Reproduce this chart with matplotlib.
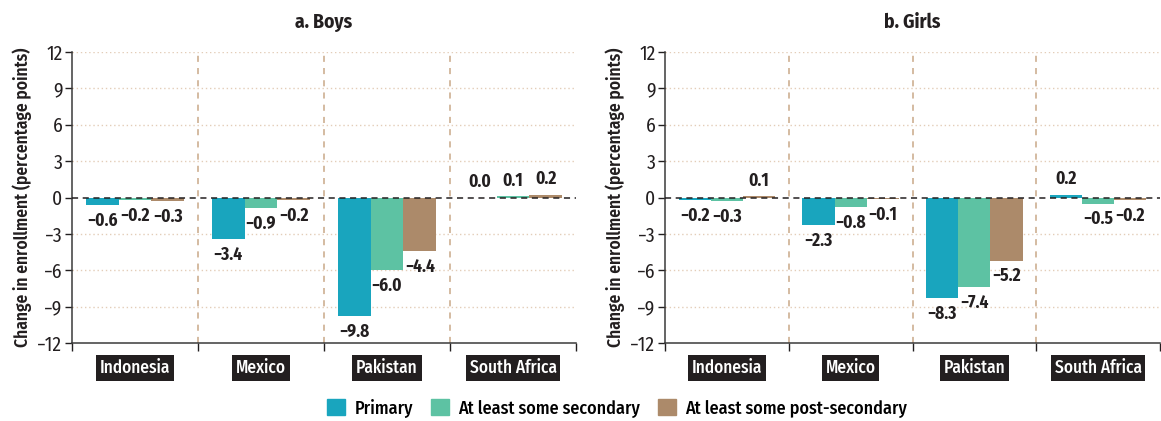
import matplotlib
matplotlib.use('Agg')
import matplotlib.pyplot as plt
import matplotlib.patches as patches
from matplotlib.transforms import blended_transform_factory
import numpy as np

plt.rcParams['font.family'] = ['Fira Sans Condensed', 'Roboto Condensed', 'DejaVu Sans']
plt.rcParams['axes.unicode_minus'] = True

# --- data ---
countries = ["Indonesia", "Mexico", "Pakistan", "South Africa"]
levels = ["Primary", "At least some secondary", "At least some post-secondary"]
boys_primary = [-0.6, -3.4, -9.8, 0.0]
boys_secondary = [-0.2, -0.9, -6.0, 0.1]
boys_post = [-0.3, -0.2, -4.4, 0.2]
girls_primary = [-0.2, -2.3, -8.3, 0.2]
girls_secondary = [-0.3, -0.8, -7.4, -0.5]
girls_post = [0.1, -0.1, -5.2, -0.2]
yticks = [-12, -9, -6, -3, 0, 3, 6, 9, 12]

COLORS = ['#19a5be', '#5dc2a3', '#ac8a6a']
GRID_C = '#e3cdb8'
SEP_C = '#c9a888'
INK = '#231f20'

fig = plt.figure(figsize=(11.61, 4.21), dpi=100)
ax_b = fig.add_axes([72/1161, 1-343/421, 504/1161, 291/421])
ax_g = fig.add_axes([665/1161, 1-343/421, 495/1161, 291/421])

def fmt(v):
    s = f"{abs(v):.1f}"
    return ("\u2212" + s) if v < 0 else s

def draw_panel(ax, series, title):
    x = np.arange(len(countries))
    w = 0.26
    for k, vals in enumerate(series):
        xs = x + (k - 1) * w
        ax.bar(xs, vals, width=w, color=COLORS[k], zorder=3, label=levels[k])
        for xi, v in zip(xs, vals):
            if v < 0:
                ax.annotate(fmt(v), (xi, v), xytext=(0, -5), textcoords='offset points',
                            ha='center', va='top', fontsize=12.5, fontweight='bold', color=INK)
            else:
                ax.annotate(fmt(v), (xi, v), xytext=(0, 5), textcoords='offset points',
                            ha='center', va='bottom', fontsize=12.5, fontweight='bold', color=INK)

    ax.set_xlim(-0.5, len(countries) - 0.5)
    ax.set_ylim(-12, 12)
    ax.set_yticks(yticks)
    ax.set_yticklabels([f"{t}".replace('-', '\u2212') for t in yticks])
    ax.tick_params(axis='y', labelsize=14, colors=INK, length=5, width=1, pad=2)

    # horizontal dotted grid, dashed zero line
    for t in yticks:
        if t == 0 or t == -12:
            continue
        ax.axhline(t, color=GRID_C, linestyle=(0, (1, 2)), linewidth=1, zorder=1)
    ax.axhline(0, color=INK, linestyle=(0, (4, 3)), linewidth=1.1, zorder=4)

    # group separators
    for b in np.arange(0.5, len(countries) - 0.5, 1):
        ax.axvline(b, color=SEP_C, linestyle=(0, (4, 4)), linewidth=1.1, zorder=1)

    ax.set_xticks(np.arange(-0.5, len(countries), 1))
    ax.set_xticklabels([])
    ax.tick_params(axis='x', length=6, width=1, colors=INK, direction='out')

    for s in ['top', 'right']:
        ax.spines[s].set_visible(False)
    for s in ['left', 'bottom']:
        ax.spines[s].set_color('#3a3a3a')
        ax.spines[s].set_linewidth(1.1)

    # country labels in dark boxes
    tr = blended_transform_factory(ax.transData, ax.transAxes)
    for i, c in enumerate(countries):
        ax.text(i, -0.086, c, transform=tr, ha='center', va='center', fontsize=12.5,
                color='white', fontweight='medium',
                bbox=dict(boxstyle='square,pad=0.22', facecolor=INK, edgecolor='none'))

    ax.set_title(title, fontsize=14, fontweight='bold', color=INK, pad=17)
    ax.set_ylabel("Change in enrollment (percentage points)", fontsize=12.5,
                  fontweight='semibold', color=INK, labelpad=4)

draw_panel(ax_b, [boys_primary, boys_secondary, boys_post], "a. Boys")
draw_panel(ax_g, [girls_primary, girls_secondary, girls_post], "b. Girls")

handles = [patches.Patch(color=c) for c in COLORS]
fig.legend(handles, levels, loc='center', bbox_to_anchor=(617/1161, 1-408/421), ncol=3,
           frameon=False, handlelength=1.0, handleheight=1.0,
           columnspacing=1.0, handletextpad=0.5, prop={'weight': 'medium', 'size': 13})

fig.savefig('out.png', dpi=100)
